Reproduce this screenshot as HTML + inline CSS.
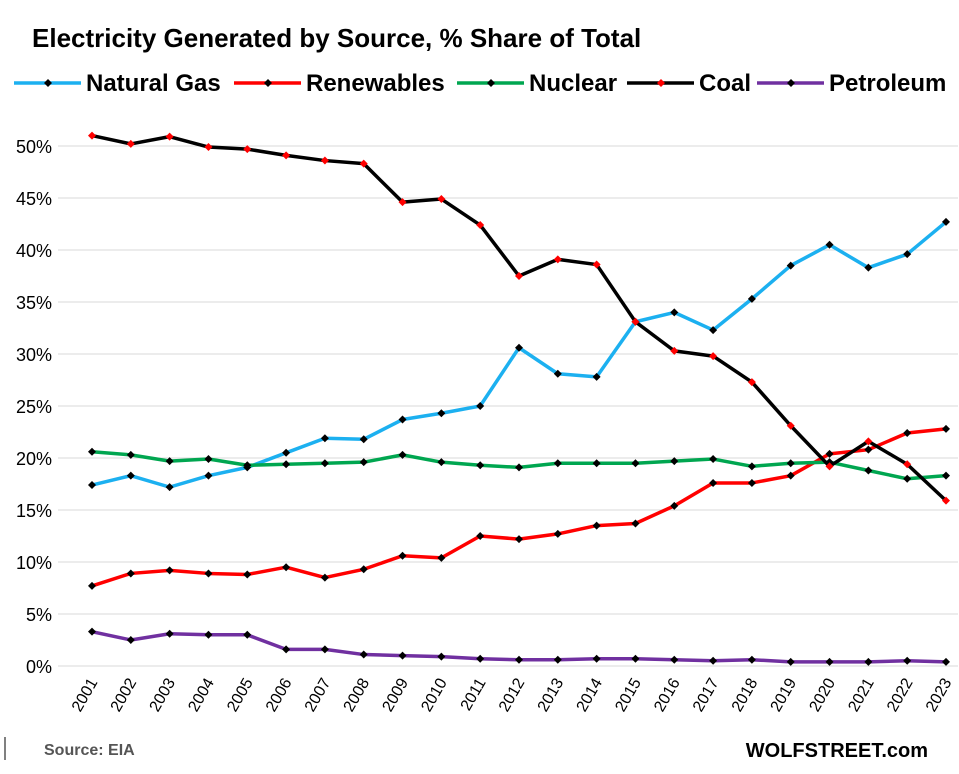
<!DOCTYPE html>
<html><head><meta charset="utf-8"><style>
body{margin:0;background:#fff;font-family:"Liberation Sans",Arial,sans-serif}
</style></head><body>
<svg id="c" width="959" height="769" xmlns="http://www.w3.org/2000/svg">
<text x="32" y="47" font-size="26" font-weight="bold" fill="#000">Electricity Generated by Source, % Share of Total</text>
<g id="legend"></g>
<g id="grid"></g>
<g id="yt"></g>
<g id="xt"></g>
<g id="series"></g>
<line x1="5" y1="737" x2="5" y2="760" stroke="#000" stroke-width="1"/>
<text x="44" y="755" font-size="16" font-weight="bold" fill="#555">Source: EIA</text>
<text x="928" y="757" font-size="20" font-weight="bold" fill="#000" text-anchor="end">WOLFSTREET.com</text>
</svg>
<script>
const years=[2001,2002,2003,2004,2005,2006,2007,2008,2009,2010,2011,2012,2013,2014,2015,2016,2017,2018,2019,2020,2021,2022,2023];
const natGas=[17.4,18.3,17.2,18.3,19.1,20.5,21.9,21.8,23.7,24.3,25.0,30.6,28.1,27.8,33.1,34.0,32.3,35.3,38.5,40.5,38.3,39.6,42.7];
const renewables=[7.7,8.9,9.2,8.9,8.8,9.5,8.5,9.3,10.6,10.4,12.5,12.2,12.7,13.5,13.7,15.4,17.6,17.6,18.3,20.4,20.8,22.4,22.8];
const nuclear=[20.6,20.3,19.7,19.9,19.3,19.4,19.5,19.6,20.3,19.6,19.3,19.1,19.5,19.5,19.5,19.7,19.9,19.2,19.5,19.6,18.8,18.0,18.3];
const coal=[51.0,50.2,50.9,49.9,49.7,49.1,48.6,48.3,44.6,44.9,42.4,37.5,39.1,38.6,33.1,30.3,29.8,27.3,23.1,19.2,21.6,19.4,15.9];
const petroleum=[3.3,2.5,3.1,3.0,3.0,1.6,1.6,1.1,1.0,0.9,0.7,0.6,0.6,0.7,0.7,0.6,0.5,0.6,0.4,0.4,0.4,0.5,0.4];
const yTicks=[0,5,10,15,20,25,30,35,40,45,50];
const NS="http://www.w3.org/2000/svg";
function X(i){return 92+i*(946-92)/(years.length-1);}
function Y(v){return 666-v*10.4;}
function mk(t,a,p){const e=document.createElementNS(NS,t);for(const k in a)e.setAttribute(k,a[k]);p.appendChild(e);return e;}
const grid=document.getElementById('grid'),yt=document.getElementById('yt'),xt=document.getElementById('xt'),ser=document.getElementById('series'),leg=document.getElementById('legend');
yTicks.forEach(v=>{
 const l=mk('line',{x1:58,x2:958,y1:Y(v),y2:Y(v),stroke:'#d9d9d9','stroke-width':1},grid);
 
 
 const t=mk('text',{x:52,y:Y(v)+7,'font-size':18,'text-anchor':'end',fill:'#000'},yt);
 t.textContent=v+'%';
 
 
});
years.forEach((yr,i)=>{
 const t=mk('text',{x:0,y:0,'font-size':16,'text-anchor':'end',fill:'#000',transform:`translate(${X(i)+6},${682}) rotate(-60)`},xt);
 t.textContent=yr;
 
 
});
const S=[
 ['natural-gas',natGas,'#1cb0f0','#000','Natural Gas',14],
 ['renewables',renewables,'#ff0000','#000','Renewables',234],
 ['nuclear',nuclear,'#00a650','#000','Nuclear',457],
 ['coal',coal,'#000','#ff0000','Coal',627],
 ['petroleum',petroleum,'#7030a0','#000','Petroleum',757]
];
S.forEach(([n,d,c,mc,label,lx])=>{
 const g=mk('g',{},ser);
 
 
 const p=mk('polyline',{points:d.map((v,i)=>X(i)+','+Y(v)).join(' '),fill:'none',stroke:c,'stroke-width':3.5,'stroke-linejoin':'round'},g);
 
 
 d.forEach((v,i)=>{
  const m=mk('path',{d:`M${X(i)},${Y(v)-4}l4,4l-4,4l-4,-4z`,fill:mc},g);
  
  
 });
 const lg=mk('g',{},leg);
 
 
 mk('line',{x1:lx,x2:lx+67,y1:83,y2:83,stroke:c,'stroke-width':3.5},lg);
 mk('path',{d:`M${lx+34},79l4,4l-4,4l-4,-4z`,fill:mc},lg);
 const t=mk('text',{x:lx+72,y:91,'font-size':24,'font-weight':'bold',fill:'#000'},lg);
 t.textContent=label;
});
</script>
</body></html>
